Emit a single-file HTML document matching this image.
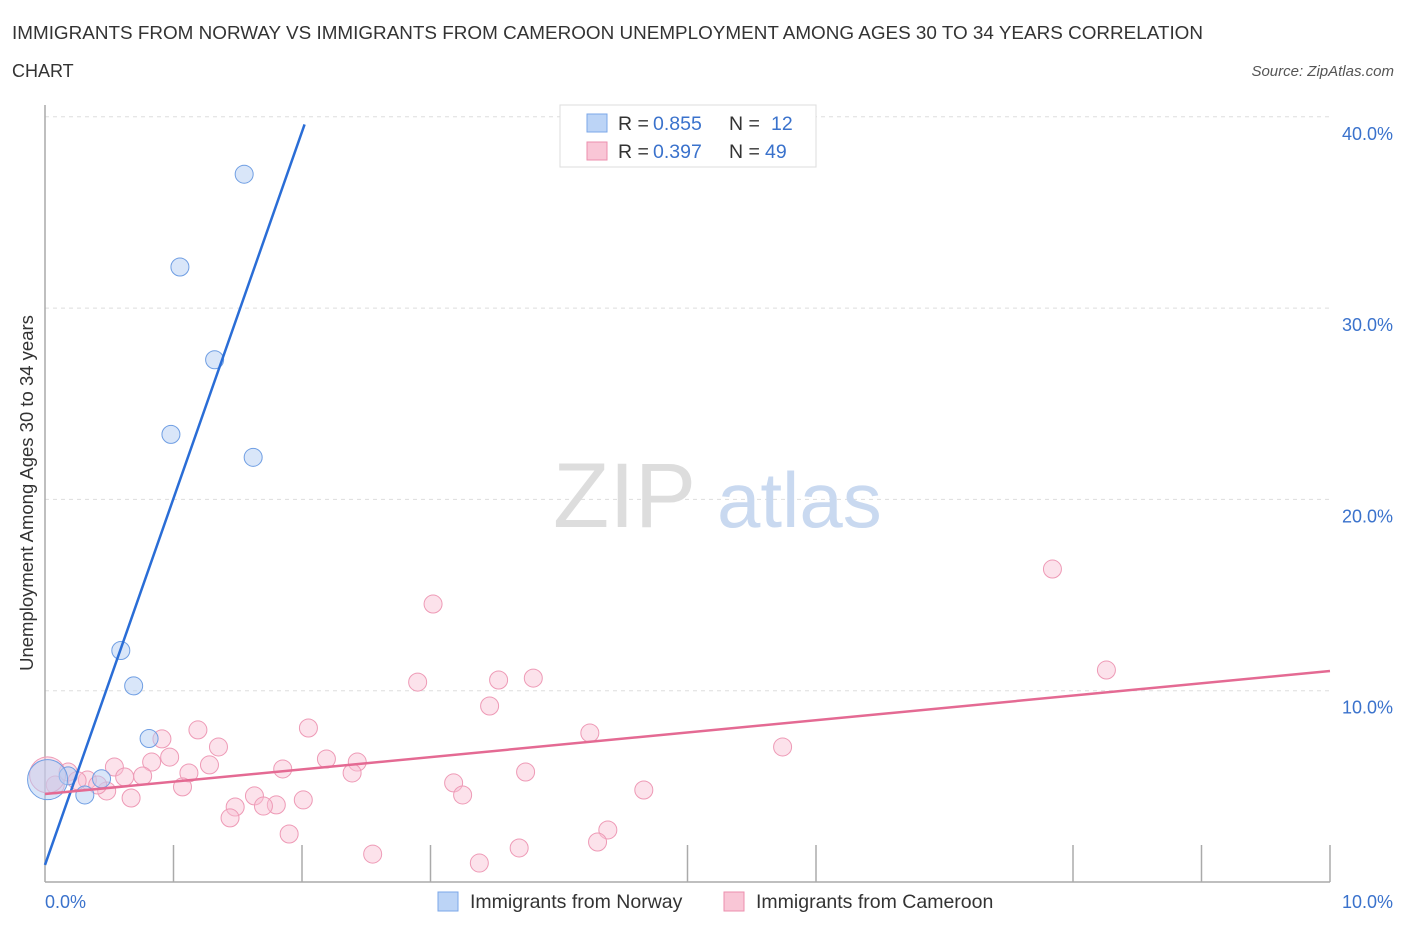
<!DOCTYPE html>
<html><head><meta charset="utf-8"><style>
body{margin:0;background:#fff;font-family:"Liberation Sans",sans-serif;}
svg text{font-family:"Liberation Sans",sans-serif;}
</style></head><body>
<svg id="chart" width="1406" height="930" viewBox="0 0 1406 930" xmlns="http://www.w3.org/2000/svg">
<text x="12" y="39" font-size="18" fill="#333" textLength="1191" lengthAdjust="spacingAndGlyphs">IMMIGRANTS FROM NORWAY VS IMMIGRANTS FROM CAMEROON UNEMPLOYMENT AMONG AGES 30 TO 34 YEARS CORRELATION</text>
<text x="12" y="77" font-size="18" fill="#333">CHART</text>
<text x="1394" y="76" font-size="15" fill="#555" font-style="italic" text-anchor="end">Source: ZipAtlas.com</text>
<g id="grid"></g>
<text x="553" y="527" font-size="92" fill="#ddd" font-family="Liberation Serif">ZIP</text>
<text x="717" y="527" font-size="78" fill="#c9d9f0">atlas</text>
<g id="axes"></g>
<g id="pts"></g>
<g id="lines"></g>
<text transform="translate(33,493) rotate(-90)" font-size="18.5" fill="#333" text-anchor="middle">Unemployment Among Ages 30 to 34 years</text>
<g>
<rect x="560" y="105" width="256" height="62" fill="#fff" stroke="#ddd"/>
<rect x="587" y="114" width="20" height="18" fill="#bcd4f6" stroke="#7ba7e8"/>
<rect x="587" y="142" width="20" height="18" fill="#f9c6d6" stroke="#ec8fae"/>
<text x="618" y="130" font-size="19.5" fill="#333">R =</text>
<text x="653" y="130" font-size="19.5" fill="#3a72cc">0.855</text>
<text x="729" y="130" font-size="19.5" fill="#333">N =</text>
<text x="771" y="130" font-size="19.5" fill="#3a72cc">12</text>
<text x="618" y="158" font-size="19.5" fill="#333">R =</text>
<text x="653" y="158" font-size="19.5" fill="#3a72cc">0.397</text>
<text x="729" y="158" font-size="19.5" fill="#333">N =</text>
<text x="765" y="158" font-size="19.5" fill="#3a72cc">49</text>
</g>
<g>
<rect x="438" y="892" width="20" height="19" fill="#bcd4f6" stroke="#7ba7e8"/>
<text x="470" y="908" font-size="19.5" fill="#333">Immigrants from Norway</text>
<rect x="724" y="892" width="20" height="19" fill="#f9c6d6" stroke="#ec8fae"/>
<text x="756" y="908" font-size="19.5" fill="#333">Immigrants from Cameroon</text>
</g>
</svg>
<script>
const yTicks=[10,20,30,40];
const yTickLabels=["10.0%","20.0%","30.0%","40.0%"];
const xTickLabels=["0.0%","10.0%"];
const norwayX=[1.55,1.05,1.32,0.98,1.62,0.59,0.69,0.81,0.44,0.31,0.18,0.02];
const norwayY=[37.0,32.15,27.3,23.4,22.2,12.1,10.25,7.5,5.4,4.55,5.55,5.35];
const norwayR=[9,9,9,9,9,9,9,9,9,9,9,20];
const camX=[7.84,8.26,3.02,2.90,3.53,3.80,3.46,2.05,1.19,0.91,4.24,5.74,1.35,0.97,0.83,0.54,1.28,2.19,2.43,1.85,2.39,3.74,1.12,0.76,0.62,0.33,0.18,0.08,1.07,0.48,3.18,4.66,3.25,1.63,0.67,2.01,1.80,1.48,1.70,1.44,1.90,4.38,4.30,3.69,2.55,3.38,0.02,0.41,0.25];
const camY=[16.36,11.08,14.53,10.45,10.56,10.66,9.2,8.05,7.95,7.48,7.79,7.06,7.06,6.53,6.27,6.01,6.12,6.43,6.27,5.91,5.70,5.75,5.70,5.54,5.49,5.33,5.75,5.07,4.97,4.76,5.18,4.81,4.55,4.5,4.39,4.29,4.03,3.92,3.97,3.35,2.51,2.72,2.09,1.78,1.46,0.99,5.6,5.07,5.3];
const norwayLineX=[0,2.02];
const norwayLineY=[0.89,39.6];
const camLineX=[0,10];
const camLineY=[4.6,11.03];
const NS="http://www.w3.org/2000/svg";
const X0=45,X1=1330,Y0=882,YS=19.13;
const sx=v=>X0+(X1-X0)*v/10;
const sy=v=>Y0-v*YS;
function mk(t,a,p){const e=document.createElementNS(NS,t);for(const k in a)e.setAttribute(k,a[k]);p.appendChild(e);return e;}
const grid=document.getElementById('grid'),axes=document.getElementById('axes'),pts=document.getElementById('pts'),lines=document.getElementById('lines');
yTicks.forEach((v,i)=>{
 const l=mk('line',{x1:X0,x2:X1,y1:sy(v),y2:sy(v),stroke:'#ddd','stroke-dasharray':'4,4'},grid);
 
 
 const t=mk('text',{x:1393,y:sy(v)+23,'font-size':18,fill:'#3a72cc','text-anchor':'end'},axes);
 t.textContent=yTickLabels[i];
 
 
});
const ax=mk('line',{x1:X0,x2:X0,y1:105,y2:Y0,stroke:'#aaa','stroke-width':1.5},axes);


const bx=mk('line',{x1:X0,x2:X1,y1:Y0,y2:Y0,stroke:'#aaa','stroke-width':1.5},axes);


for(let i=1;i<=10;i++){if(i==4||i==7)continue;
 const t=mk('line',{x1:sx(i),x2:sx(i),y1:845,y2:Y0,stroke:'#aaa','stroke-width':1.5},axes);
 
 }
[[0,'start',45],[1,'end',1393]].forEach(([i,a,x])=>{
 const t=mk('text',{x:x,y:908,'font-size':18,fill:'#3a72cc','text-anchor':a},axes);
 t.textContent=xTickLabels[i];
 
 });
camX.forEach((v,i)=>{
 const c=mk('circle',{cx:sx(v),cy:sy(camY[i]),r:i==46?18:9,fill:'rgba(248,190,210,0.45)',stroke:'#ee9ab6','stroke-width':1},pts);
 
 });
norwayX.forEach((v,i)=>{
 const c=mk('circle',{cx:sx(v),cy:sy(norwayY[i]),r:norwayR[i],fill:'rgba(180,205,243,0.5)',stroke:'#6f9ee3','stroke-width':1},pts);
 
 });
const nl=mk('line',{x1:sx(norwayLineX[0]),y1:sy(norwayLineY[0]),x2:sx(norwayLineX[1]),y2:sy(norwayLineY[1]),stroke:'#2a6dd6','stroke-width':2.5},lines);


const cl=mk('line',{x1:sx(camLineX[0]),y1:sy(camLineY[0]),x2:sx(camLineX[1]),y2:sy(camLineY[1]),stroke:'#e46a93','stroke-width':2.5},lines);


</script>
</body></html>
